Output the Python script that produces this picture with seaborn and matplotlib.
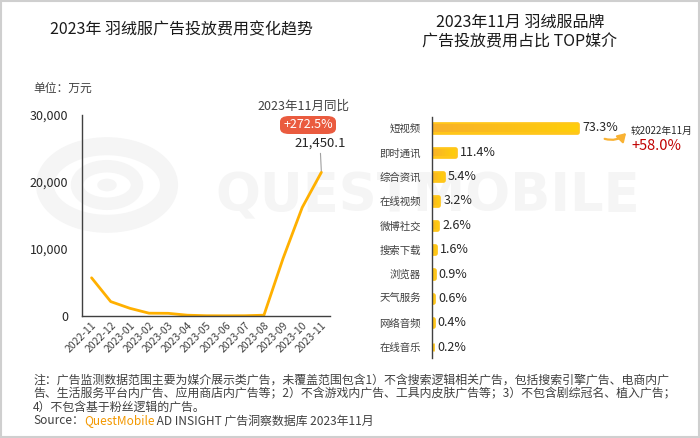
import numpy as np
import pandas as pd
import matplotlib
matplotlib.use("Agg")
import matplotlib.pyplot as plt
import seaborn as sns
from matplotlib.colors import LinearSegmentedColormap
from matplotlib.patches import Rectangle, Circle, FancyBboxPatch
import matplotlib.patheffects as pe
from matplotlib.ticker import FuncFormatter

# ---- data ----
months = ["2022-11", "2022-12", "2023-01", "2023-02", "2023-03", "2023-04", "2023-05",
          "2023-06", "2023-07", "2023-08", "2023-09", "2023-10", "2023-11"]
spend = [5700, 2150, 1150, 420, 400, 120, 40, 30, 40, 120, 8600, 16200, 21450.1]

media = ["短视频", "即时通讯", "综合资讯", "在线视频", "微博社交", "搜索下载", "浏览器",
         "天气服务", "网络音频", "在线音乐"]
share = [73.3, 11.4, 5.4, 3.2, 2.6, 1.6, 0.9, 0.6, 0.4, 0.2]

yoy_spend = "+272.5%"
yoy_share = "+58.0%"

sns.set_theme(style="white")
plt.rcParams["font.family"] = ["Noto Sans CJK SC", "DejaVu Sans"]
plt.rcParams["axes.unicode_minus"] = False

W, H = 700, 438
fig = plt.figure(figsize=(7, 4.38), dpi=100)
fig.patch.set_facecolor("white")

def fx(px):
    return px / W

def fy(py):
    return 1 - py / H

# frame + watermark
fig.add_artist(Rectangle((0.002, 0.003), 0.996, 0.994, transform=fig.transFigure,
                         fill=False, edgecolor="#cfcfcf", linewidth=1.5, zorder=-2))
wm = "#f5f5f5"
fig.text(fx(428), fy(196), "QUESTMOBILE", fontsize=38, fontweight="bold", color=wm,
         ha="center", va="center", family="DejaVu Sans", zorder=-1)
for r, lw in [(62, 13), (30, 9)]:
    fig.add_artist(Circle((fx(107), fy(185)), r / W, transform=fig.transFigure, fill=False,
                          edgecolor=wm, linewidth=lw, zorder=-1))
fig.add_artist(Circle((fx(107), fy(185)), 9 / W, transform=fig.transFigure,
                      color=wm, zorder=-1))

# ---- left: monthly spend ----
ax1 = fig.add_axes([fx(82), fy(316), fx(330 - 82), (316 - 115) / H])
ax1.set_facecolor("none")
df1 = pd.DataFrame({"month": months, "spend": spend})
sns.lineplot(data=df1, x="month", y="spend", ax=ax1, color="#FFB000", linewidth=2)
ax1.set_xlim(-0.5, 12.45)
ax1.set_ylim(0, 30000)
ax1.set_yticks([0, 10000, 20000, 30000])
ax1.yaxis.set_major_formatter(FuncFormatter(lambda v, p: f"{v:,.0f}"))
ax1.set_xlabel("")
ax1.set_ylabel("")
for s in ["top", "right"]:
    ax1.spines[s].set_visible(False)
for s in ["left", "bottom"]:
    ax1.spines[s].set_color("#404040")
    ax1.spines[s].set_linewidth(1)
ax1.tick_params(axis="y", length=0, pad=10, labelsize=9, labelcolor="#262626")
ax1.tick_params(axis="x", length=0, pad=3, labelsize=7.5, labelcolor="#404040")
plt.setp(ax1.get_xticklabels(), rotation=45, ha="right", rotation_mode="anchor")

ax1.annotate(f"{spend[-1]:,.1f}", xy=(12, spend[-1]), xytext=(-1, 16),
             textcoords="offset points", ha="center", va="bottom", fontsize=9.5,
             color="#262626",
             arrowprops=dict(arrowstyle="-", color="#a0a0a0", lw=0.8, shrinkA=0, shrinkB=1))

fig.text(fx(33), fy(88), "单位：万元", fontsize=8.5, color="#404040", va="center")
fig.text(fx(349), fy(106), "2023年11月同比", fontsize=9, color="#404040", ha="right", va="center")
fig.add_artist(FancyBboxPatch((fx(280), fy(134)), fx(56), 18 / H,
                              boxstyle="round,pad=0,rounding_size=0.013",
                              transform=fig.transFigure, facecolor="#EA5B3F",
                              edgecolor="none"))
fig.text(fx(308), fy(125), yoy_spend, fontsize=9, color="white", ha="center", va="center")

fig.text(fx(182), fy(30), "2023年 羽绒服广告投放费用变化趋势", fontsize=11.5, color="#1a1a1a",
         ha="center", va="center")

# ---- right: media share ----
ax2 = fig.add_axes([fx(432), fy(358), fx(640 - 432), (358 - 117) / H])
ax2.set_facecolor("none")
df2 = pd.DataFrame({"media": media, "share": share})
sns.barplot(data=df2, y="media", x="share", ax=ax2, color="#FFC61A", width=0.3,
            orient="h", saturation=1)
grad = LinearSegmentedColormap.from_list("g", ["#F8B12A", "#FFCE0A"])
for p in list(ax2.patches):
    p.set_edgecolor("#FFC61A")
    p.set_linewidth(3.4)
    p.set_joinstyle("round")
    p.set_path_effects([pe.SimplePatchShadow(offset=(1.5, -1.5), alpha=0.15), pe.Normal()])
    x0, y0 = p.get_x(), p.get_y()
    w, h = p.get_width(), p.get_height()
    im = ax2.imshow(np.linspace(0, 1, 100).reshape(1, -1), cmap=grad, aspect="auto",
                    extent=[x0, x0 + w, y0 + h, y0], zorder=p.get_zorder() + 0.1,
                    interpolation="bilinear")
    im.set_clip_path(p)
ax2.set_xlim(0, 105)
ax2.set_ylim(9.45, -0.45)
ax2.bar_label(ax2.containers[0], labels=[f"{v:.1f}%" for v in share], padding=3.5,
              fontsize=9, color="#262626")
ax2.set_xlabel("")
ax2.set_ylabel("")
ax2.set_xticks([])
for s in ["top", "right", "bottom"]:
    ax2.spines[s].set_visible(False)
ax2.spines["left"].set_color("#404040")
ax2.spines["left"].set_linewidth(1)
ax2.spines["left"].set_zorder(5)
ax2.tick_params(axis="y", length=0, pad=8, labelsize=7.5, labelcolor="#404040")

ax2.annotate("", xy=(fx(628), fy(131)), xytext=(fx(602), fy(138)),
             xycoords="figure fraction", textcoords="figure fraction",
             arrowprops=dict(arrowstyle="-|>,head_length=0.4,head_width=0.25",
                             color="#F9B233", lw=1.6,
                             connectionstyle="arc3,rad=0.35"))
fig.text(fx(631), fy(131), "较2022年11月", fontsize=7, color="#262626", va="center")
fig.text(fx(631), fy(146), yoy_share, fontsize=10.5, color="#C00000", va="center")

fig.text(fx(520), fy(22), "2023年11月 羽绒服品牌", fontsize=11.5, color="#1a1a1a",
         ha="center", va="center")
fig.text(fx(520), fy(42), "广告投放费用占比 TOP媒介", fontsize=11.5, color="#1a1a1a",
         ha="center", va="center")

# ---- footnote ----
notes = [
    "注：广告监测数据范围主要为媒介展示类广告，未覆盖范围包含1）不含搜索逻辑相关广告，包括搜索引擎广告、电商内广",
    "告、生活服务平台内广告、应用商店内广告等；2）不含游戏内广告、工具内皮肤广告等；3）不包含剧综冠名、植入广告；",
    "4）不包含基于粉丝逻辑的广告。",
]
for i, line in enumerate(notes):
    fig.text(fx(33), fy(380 + 13.5 * i), line, fontsize=8.6, color="#404040", va="center")

fig.canvas.draw()
renderer = fig.canvas.get_renderer()
x = fx(33)
for part, col in [("Source：", "#404040"), ("QuestMobile", "#F39800"),
                  (" AD INSIGHT 广告洞察数据库 2023年11月", "#404040")]:
    t = fig.text(x, fy(421), part, fontsize=8.6, color=col, va="center")
    bb = t.get_window_extent(renderer)
    x += bb.width / (fig.dpi * fig.get_figwidth())

fig.savefig("out.png", dpi=100)
